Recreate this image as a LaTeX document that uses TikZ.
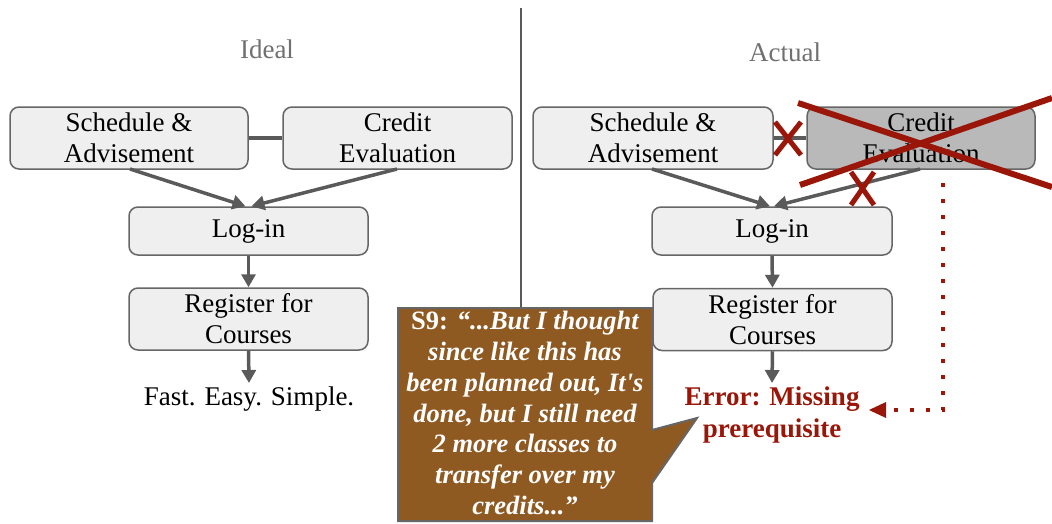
\documentclass[tikz,border=0pt]{standalone}
\usepackage{fontspec}
\setmainfont{Liberation Serif}
\usetikzlibrary{arrows.meta}
\definecolor{boxfill}{HTML}{EFEFEF}
\definecolor{boxdark}{HTML}{B9B9B9}
\definecolor{boxline}{HTML}{666666}
\definecolor{arrowgray}{HTML}{5A5A5A}
\definecolor{errred}{HTML}{9A1608}
\definecolor{bubblefill}{HTML}{8F5A22}
\definecolor{labelgray}{HTML}{707070}
\tikzset{
  stepbox/.style={draw=boxline, line width=1.5pt, fill=boxfill, rounded corners=9pt,
    align=center, inner sep=0pt, font=\fontsize{27}{31}\selectfont},
  flow/.style={draw=arrowgray, line width=3.5pt, -{Triangle[length=13pt,width=14pt]}},
  link/.style={draw=arrowgray, line width=4pt},
  cross/.style={draw=errred, line width=5pt},
  paneltitle/.style={text=labelgray, font=\fontsize{27}{30}\selectfont},
}
\begin{document}
\begin{tikzpicture}[x=1pt,y=-1pt]
\useasboundingbox (0,0) rectangle (1052,523);
% divider
\coordinate (divtop) at (521,8);
\coordinate (divbot) at (521,308);
\draw[draw=arrowgray, line width=1.5pt] (divtop) -- (divbot);
% titles
\node[paneltitle] (ideal) at (267,49) {Ideal};
\node[paneltitle] (actual) at (785,52) {Actual};
% left panel
\node[stepbox, minimum width=238pt, minimum height=62pt] (ls) at (129,138) {Schedule \&\\Advisement};
\node[stepbox, minimum width=229pt, minimum height=62pt] (lc) at (397.5,138) {Credit\\Evaluation};
\node[stepbox, minimum width=239pt, minimum height=48pt] (ll) at (248.5,231) {Log-in};
\node[stepbox, minimum width=239pt, minimum height=62pt] (lr) at (248.5,319) {Register for\\Courses};
\node[font=\fontsize{27}{31}\selectfont, inner sep=0pt] (lfast) at (249,399) {Fast. Easy. Simple.};
\coordinate (lfastin) at (249,383);
\draw[link] (ls.east) -- (lc.west);
\draw[flow] (130,169) -- ([xshift=-3pt]ll.north);
\draw[flow] (397,169) -- ([xshift=3pt]ll.north);
\draw[flow] (ll.south) -- (lr.north);
\draw[flow] (lr.south) -- (lfastin);
% right panel
\node[stepbox, minimum width=240pt, minimum height=62pt] (rs) at (653,138) {Schedule \&\\Advisement};
\node[stepbox, fill=boxdark, minimum width=228pt, minimum height=62pt] (rc) at (921,138) {Credit\\Evaluation};
\node[stepbox, minimum width=240pt, minimum height=48pt] (rl) at (772,231) {Log-in};
\node[stepbox, minimum width=239pt, minimum height=62pt] (rr) at (772.5,319.5) {Register for\\Courses};
\node[font=\bfseries\fontsize{27}{32}\selectfont, text=errred, align=center, inner sep=0pt] (rerr) at (772,415) {Error: Missing\\prerequisite};
\coordinate (rerrin) at (772,383);
\draw[link] (rs.east) -- (rc.west);
\draw[flow] (652,169) -- ([xshift=-2pt]rl.north);
\draw[flow] (920,169) -- ([xshift=2pt]rl.north);
\draw[flow] (rl.south) -- (rr.north);
\draw[flow] (rr.south) -- (rerrin);
% crosses
\coordinate (xa1) at (775,122); \coordinate (xa2) at (801,155);
\coordinate (xa3) at (801,122); \coordinate (xa4) at (775,155);
\draw[cross] (xa1) -- (xa2); \draw[cross] (xa3) -- (xa4);
\coordinate (xb1) at (851,172); \coordinate (xb2) at (874,205);
\coordinate (xb3) at (874,172); \coordinate (xb4) at (851,205);
\draw[cross] (xb1) -- (xb2); \draw[cross] (xb3) -- (xb4);
\coordinate (xc1) at (798,103); \coordinate (xc2) at (1052,187);
\coordinate (xc3) at (800,185); \coordinate (xc4) at (1052,98);
\draw[cross, line width=6pt] (xc1) -- (xc2); \draw[cross, line width=6pt] (xc3) -- (xc4);
% dotted error link
\coordinate (dtop) at (943,183);
\coordinate (dcorner) at (943,410);
\coordinate (dtip) at (869,410);
\draw[draw=errred, line width=4pt, dash pattern=on 4pt off 12pt] (dtop) -- (dcorner) -- ([xshift=14pt]dtip);
\fill[errred] (dtip) -- ++(17,-8) -- ++(0,16) -- cycle;
% speech bubble
\draw[draw=boxline, line width=2pt, fill=bubblefill]
  (398,308) -- (652,308) -- (652,430) -- (697,418) -- (652,483) -- (652,521) -- (398,521) -- cycle;
\node[text=white, align=center, inner sep=0pt, font=\bfseries\itshape\fontsize{26.5}{30.8}\selectfont] (quote) at (525,413)
  {{\upshape S9:} “...But I thought\\since like this has\\been planned out, It\textquotesingle s\\done, but I still need\\2 more classes to\\transfer over my\\credits...”};
\end{tikzpicture}
\end{document}
